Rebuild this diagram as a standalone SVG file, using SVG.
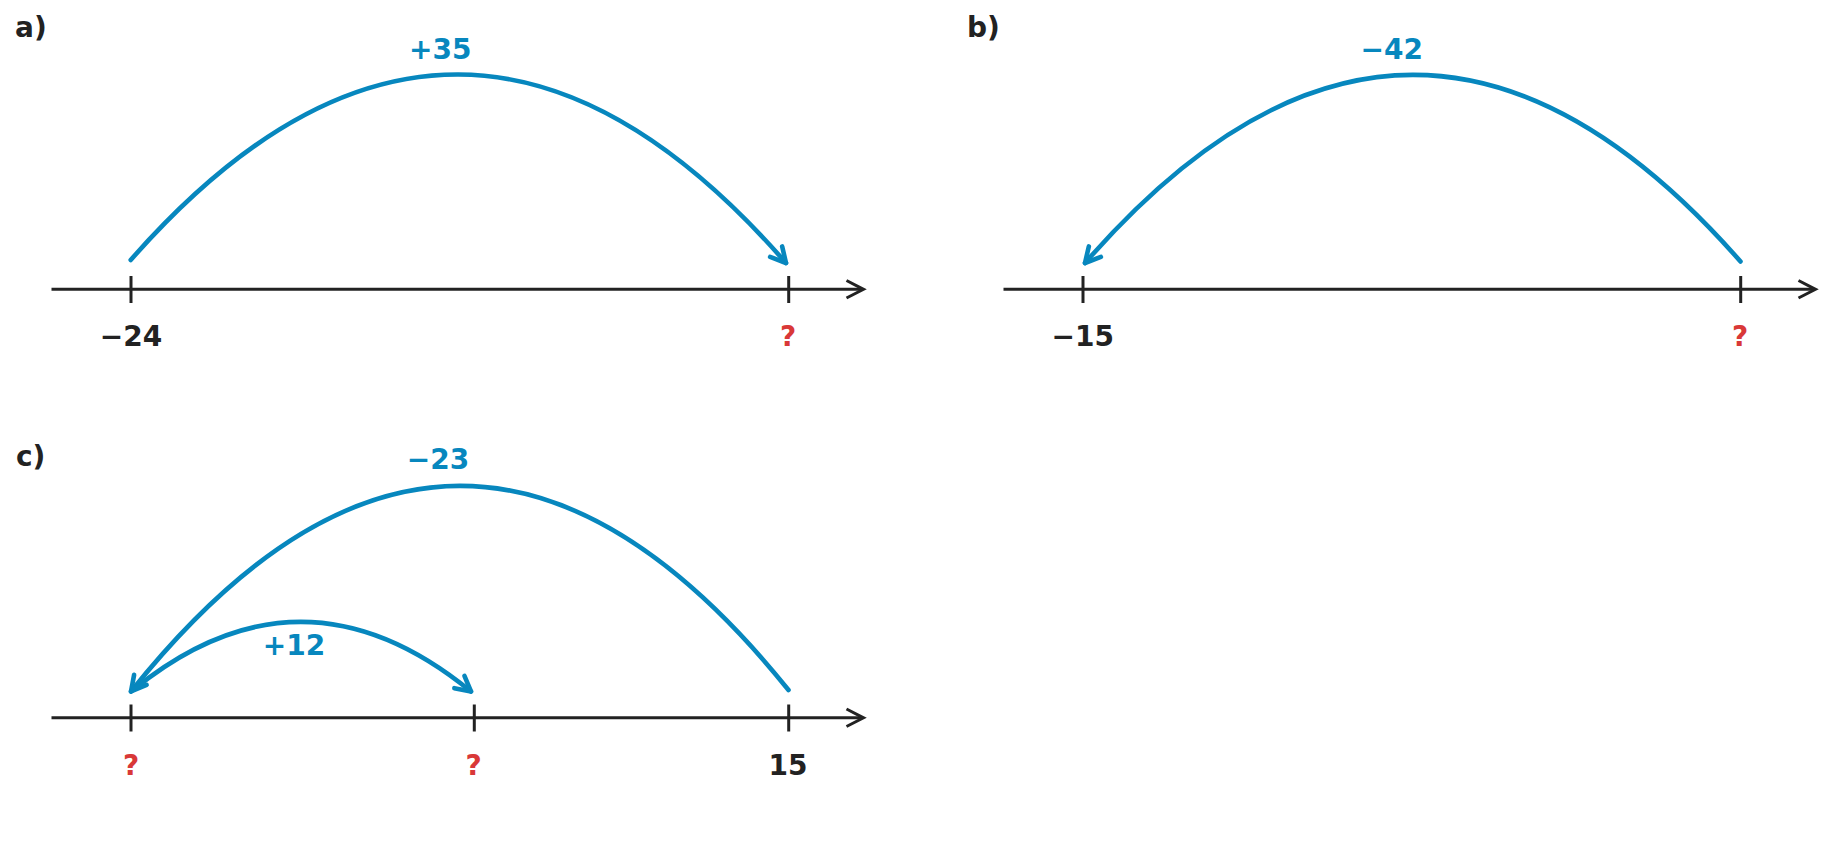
<svg xmlns="http://www.w3.org/2000/svg" width="1848" height="844" viewBox="0 0 1848 844">
<style>
  .axis { stroke: #222222; stroke-width: 3; fill: none; stroke-linecap: butt; stroke-linejoin: miter; }
  .tick { stroke: #222222; stroke-width: 3; }
  .arc { stroke: #0787BE; stroke-width: 4.6; fill: none; stroke-linecap: round; }
  .t { font-family: "DejaVu Sans", "Liberation Sans", sans-serif; font-weight: bold; font-size: 28px; }
  .dark { fill: #222222; }
  .blue { fill: #0787BE; }
  .red { fill: #D93838; }
  .mid { text-anchor: middle; }
</style>
<defs>
  <marker id="head" markerUnits="userSpaceOnUse" orient="auto" refX="0" refY="0" markerWidth="40" markerHeight="40" viewBox="-20 -20 40 40" overflow="visible">
    <path d="M-15,-8 L0,0 L-15,8" fill="none" stroke="#0787BE" stroke-width="4.6" stroke-linecap="round" stroke-linejoin="round"/>
  </marker>
</defs>
<rect width="1848" height="844" fill="#ffffff"/>

<g id="panel-a">
  <text class="t dark" x="15" y="37">a)</text>
  <path class="axis" d="M51.5,289.3 H862"/>
  <path class="axis" d="M846.5,280.5 L863.5,289.3 L846.5,298"/>
  <line class="tick" x1="131" y1="276" x2="131" y2="303"/>
  <line class="tick" x1="788.7" y1="276" x2="788.7" y2="303"/>
  <text class="t dark mid" x="131" y="345.5">−24</text>
  <text class="t red mid" x="788" y="345.5">?</text>
  <text class="t blue mid" x="440.3" y="58.5">+35</text>
</g>

<g id="panel-b">
  <text class="t dark" x="967" y="37">b)</text>
  <path class="axis" d="M1003.5,289.3 H1814"/>
  <path class="axis" d="M1798.5,280.5 L1815.5,289.3 L1798.5,298"/>
  <line class="tick" x1="1083" y1="276" x2="1083" y2="303"/>
  <line class="tick" x1="1740.7" y1="276" x2="1740.7" y2="303"/>
  <text class="t dark mid" x="1082.7" y="345.5">−15</text>
  <text class="t red mid" x="1740" y="345.5">?</text>
  <text class="t blue mid" x="1391.8" y="58.5">−42</text>
</g>

<g id="panel-c">
  <text class="t dark" x="16" y="466">c)</text>
  <path class="axis" d="M51.5,717.8 H862"/>
  <path class="axis" d="M846.5,709 L863.5,717.8 L846.5,726.5"/>
  <line class="tick" x1="131" y1="704.5" x2="131" y2="731.5"/>
  <line class="tick" x1="474.3" y1="704.5" x2="474.3" y2="731.5"/>
  <line class="tick" x1="788.7" y1="704.5" x2="788.7" y2="731.5"/>
  <text class="t red mid" x="131" y="774.5">?</text>
  <text class="t red mid" x="473.5" y="774.5">?</text>
  <text class="t dark mid" x="788" y="774.5">15</text>
  <text class="t blue mid" x="438" y="469">−23</text>
  <text class="t blue mid" x="294" y="654.5">+12</text>
</g>

<g id="connectors">
  <path class="arc" d="M130.7,260 Q458.5,-112.5 786,263" marker-end="url(#head)"/>
  <path class="arc" d="M1740.5,261.5 Q1412.5,-112.5 1085,263" marker-end="url(#head)"/>
  <path class="arc" d="M788.5,690 Q459.5,281 131,691.5" marker-end="url(#head)"/>
  <path class="arc" d="M133,690 Q301.5,553 471,691.5" marker-end="url(#head)"/>
</g>
</svg>
